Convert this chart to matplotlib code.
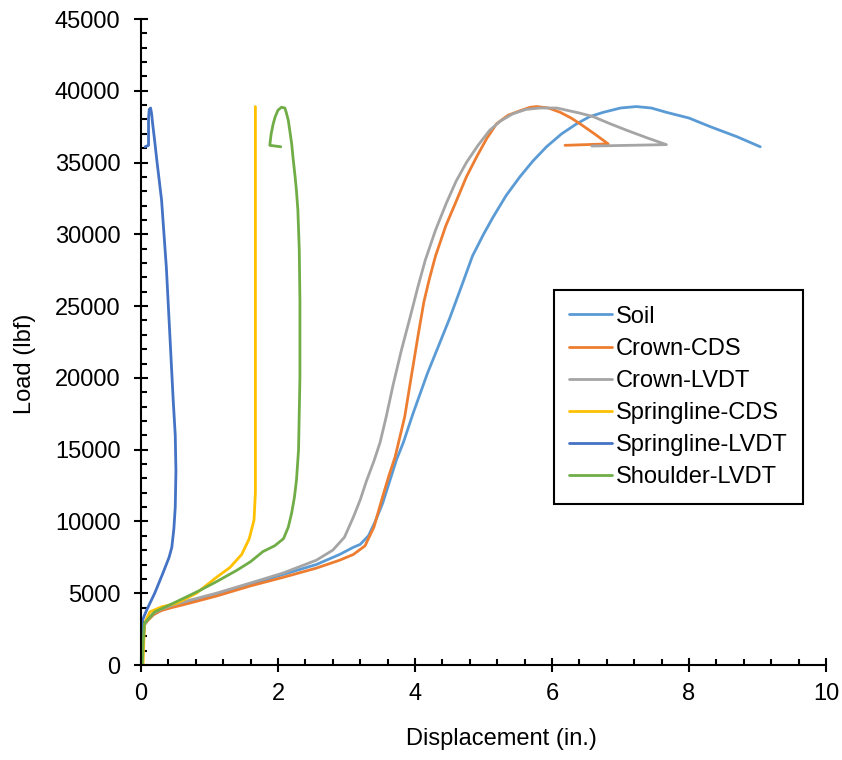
import matplotlib
matplotlib.use("Agg")
import matplotlib.pyplot as plt
from matplotlib.ticker import MultipleLocator

plt.rcParams['font.family'] = ['Liberation Sans', 'DejaVu Sans']

# Data (displacement in., load lbf)
soil_x = [0.0, 0.02, 0.04, 0.08, 0.18, 0.28, 0.45, 0.62, 1.10, 1.59, 2.07, 2.56, 2.90, 3.10,
          3.20, 3.32, 3.42, 3.53, 3.63, 3.73, 3.83, 3.97, 4.18, 4.35, 4.51, 4.68, 4.84,
          5.00, 5.14, 5.33, 5.53, 5.72, 5.92, 6.14, 6.36, 6.55, 6.75, 7.00, 7.23, 7.45,
          7.67, 8.00, 8.31, 8.70, 9.04]
soil_y = [0, 1500, 2800, 3100, 3500, 3800, 4050, 4300, 4900, 5600, 6300, 7000, 7700, 8200,
          8400, 9000, 10000, 11300, 12800, 14300, 15500, 17500, 20300, 22300, 24200, 26400, 28500,
          30000, 31200, 32700, 34000, 35100, 36100, 37000, 37700, 38200, 38500, 38800, 38900, 38800,
          38500, 38100, 37500, 36800, 36100]

crown_cds_x = [0.0, 0.03, 0.05, 0.10, 0.18, 0.30, 0.45, 0.62, 1.10, 1.59, 2.07, 2.56, 2.90,
               3.10, 3.27, 3.40, 3.52, 3.62, 3.71, 3.85, 3.96, 4.05, 4.13, 4.21, 4.30, 4.45,
               4.61, 4.75, 4.90, 5.05, 5.19, 5.36, 5.53, 5.68, 5.78, 5.95, 6.12, 6.28, 6.41,
               6.62, 6.82, 6.19]
crown_cds_y = [0, 1500, 2800, 3100, 3500, 3800, 4000, 4200, 4800, 5500, 6100, 6750, 7300,
               7700, 8300, 9600, 11600, 13200, 14500, 17300, 20500, 23100, 25300, 26900, 28500, 30600,
               32400, 34000, 35400, 36700, 37700, 38300, 38600, 38850, 38900, 38800, 38500, 38100, 37700,
               37000, 36300, 36200]

crown_lvdt_x = [0.0, 0.03, 0.05, 0.10, 0.18, 0.30, 0.45, 0.62, 1.10, 1.59, 2.07, 2.56, 2.80,
                2.97, 3.10, 3.20, 3.29, 3.40, 3.49, 3.58, 3.68, 3.80, 3.93, 4.04, 4.15, 4.30,
                4.46, 4.60, 4.75, 4.92, 5.09, 5.25, 5.43, 5.62, 5.82, 6.07, 6.21, 6.40, 6.60,
                6.85, 7.09, 7.40, 7.67, 6.58]
crown_lvdt_y = [0, 1500, 2800, 3200, 3600, 3900, 4150, 4400, 5000, 5700, 6400, 7300, 8000,
                8900, 10300, 11500, 12800, 14200, 15500, 17300, 19500, 21900, 24250, 26300, 28200, 30300,
                32200, 33700, 35000, 36200, 37250, 37900, 38400, 38700, 38800, 38800, 38650, 38450, 38200,
                37700, 37250, 36700, 36250, 36150]

spring_cds_x = [0.03, 0.04, 0.05, 0.13, 0.30, 0.52, 0.81, 1.10, 1.30, 1.47, 1.58, 1.65, 1.67, 1.67]
spring_cds_y = [0, 1500, 2900, 3700, 4050, 4300, 5000, 6100, 6800, 7700, 8800, 10100, 12000, 38900]

spring_lvdt_x = [0.0, 0.01, 0.02, 0.08, 0.20, 0.32, 0.41, 0.45, 0.48, 0.50, 0.51, 0.50, 0.47,
                 0.42, 0.37, 0.30, 0.26, 0.23, 0.20, 0.17, 0.155, 0.14, 0.12, 0.11, 0.11, 0.06]
spring_lvdt_y = [0, 1500, 3100, 3800, 5000, 6400, 7500, 8200, 9500, 11000, 13500, 16000, 18450,
                 23100, 27700, 32400, 34000, 35200, 36500, 37700, 38400, 38800, 38700, 38100, 36200, 36100]

shoulder_x = [0.02, 0.03, 0.05, 0.20, 0.47, 0.86, 1.10, 1.40, 1.60, 1.78, 1.95, 2.08, 2.15,
              2.20, 2.24, 2.27, 2.30, 2.32, 2.32, 2.31, 2.29, 2.27, 2.25, 2.22, 2.20, 2.17,
              2.15, 2.12, 2.10, 2.05, 2.00, 1.96, 1.93, 1.90, 1.88, 2.04]
shoulder_y = [0, 1500, 2900, 3700, 4300, 5200, 5800, 6600, 7200, 7900, 8300, 8800, 9600,
              10600, 11700, 12900, 15000, 20000, 25400, 29000, 31700, 33000, 34000, 35300, 36300, 37300,
              37950, 38500, 38800, 38850, 38650, 38200, 37700, 37000, 36200, 36100]

series = [
    ('Soil', soil_x, soil_y, '#5B9BD5'),
    ('Crown-CDS', crown_cds_x, crown_cds_y, '#ED7D31'),
    ('Crown-LVDT', crown_lvdt_x, crown_lvdt_y, '#A5A5A5'),
    ('Springline-CDS', spring_cds_x, spring_cds_y, '#FFC000'),
    ('Springline-LVDT', spring_lvdt_x, spring_lvdt_y, '#4472C4'),
    ('Shoulder-LVDT', shoulder_x, shoulder_y, '#70AD47'),
]

fig = plt.figure(figsize=(8.42, 7.6), dpi=100)
ax = fig.add_axes([141 / 842, 95 / 760, 685 / 842, 646 / 760])

for name, xs, ys, color in series:
    ax.plot(xs, ys, color=color, lw=2.0, label=name,
            solid_joinstyle='round', solid_capstyle='round')

ax.set_xlim(0, 10)
ax.set_ylim(0, 45000)
ax.xaxis.set_major_locator(MultipleLocator(2))
ax.xaxis.set_minor_locator(MultipleLocator(0.4))
ax.yaxis.set_major_locator(MultipleLocator(5000))
ax.yaxis.set_minor_locator(MultipleLocator(1000))

for s in ['top', 'right']:
    ax.spines[s].set_visible(False)
for s in ['left', 'bottom']:
    ax.spines[s].set_linewidth(1.5)

ax.tick_params(which='major', direction='inout', length=9.5, width=1.5, labelsize=17)
ax.tick_params(which='minor', direction='in', length=4.5, width=1.5)
ax.tick_params(axis='y', which='major', pad=10)
ax.tick_params(axis='x', which='major', pad=8)

ax.set_xlabel('Displacement (in.)', fontsize=17)
ax.set_ylabel('Load (lbf)', fontsize=17)
ax.xaxis.set_label_coords(0.5266, -0.0975)
ax.yaxis.set_label_coords(-0.153, 0.466)

leg = ax.legend(loc='upper left', bbox_to_anchor=(0.603, 0.580), fontsize=17,
                frameon=True, fancybox=False, edgecolor='black', framealpha=1,
                handlelength=1.8, handletextpad=0.15, labelspacing=0.43,
                borderpad=0.65, borderaxespad=0)
leg.get_frame().set_linewidth(1.5)

fig.savefig('out.png', dpi=100)
